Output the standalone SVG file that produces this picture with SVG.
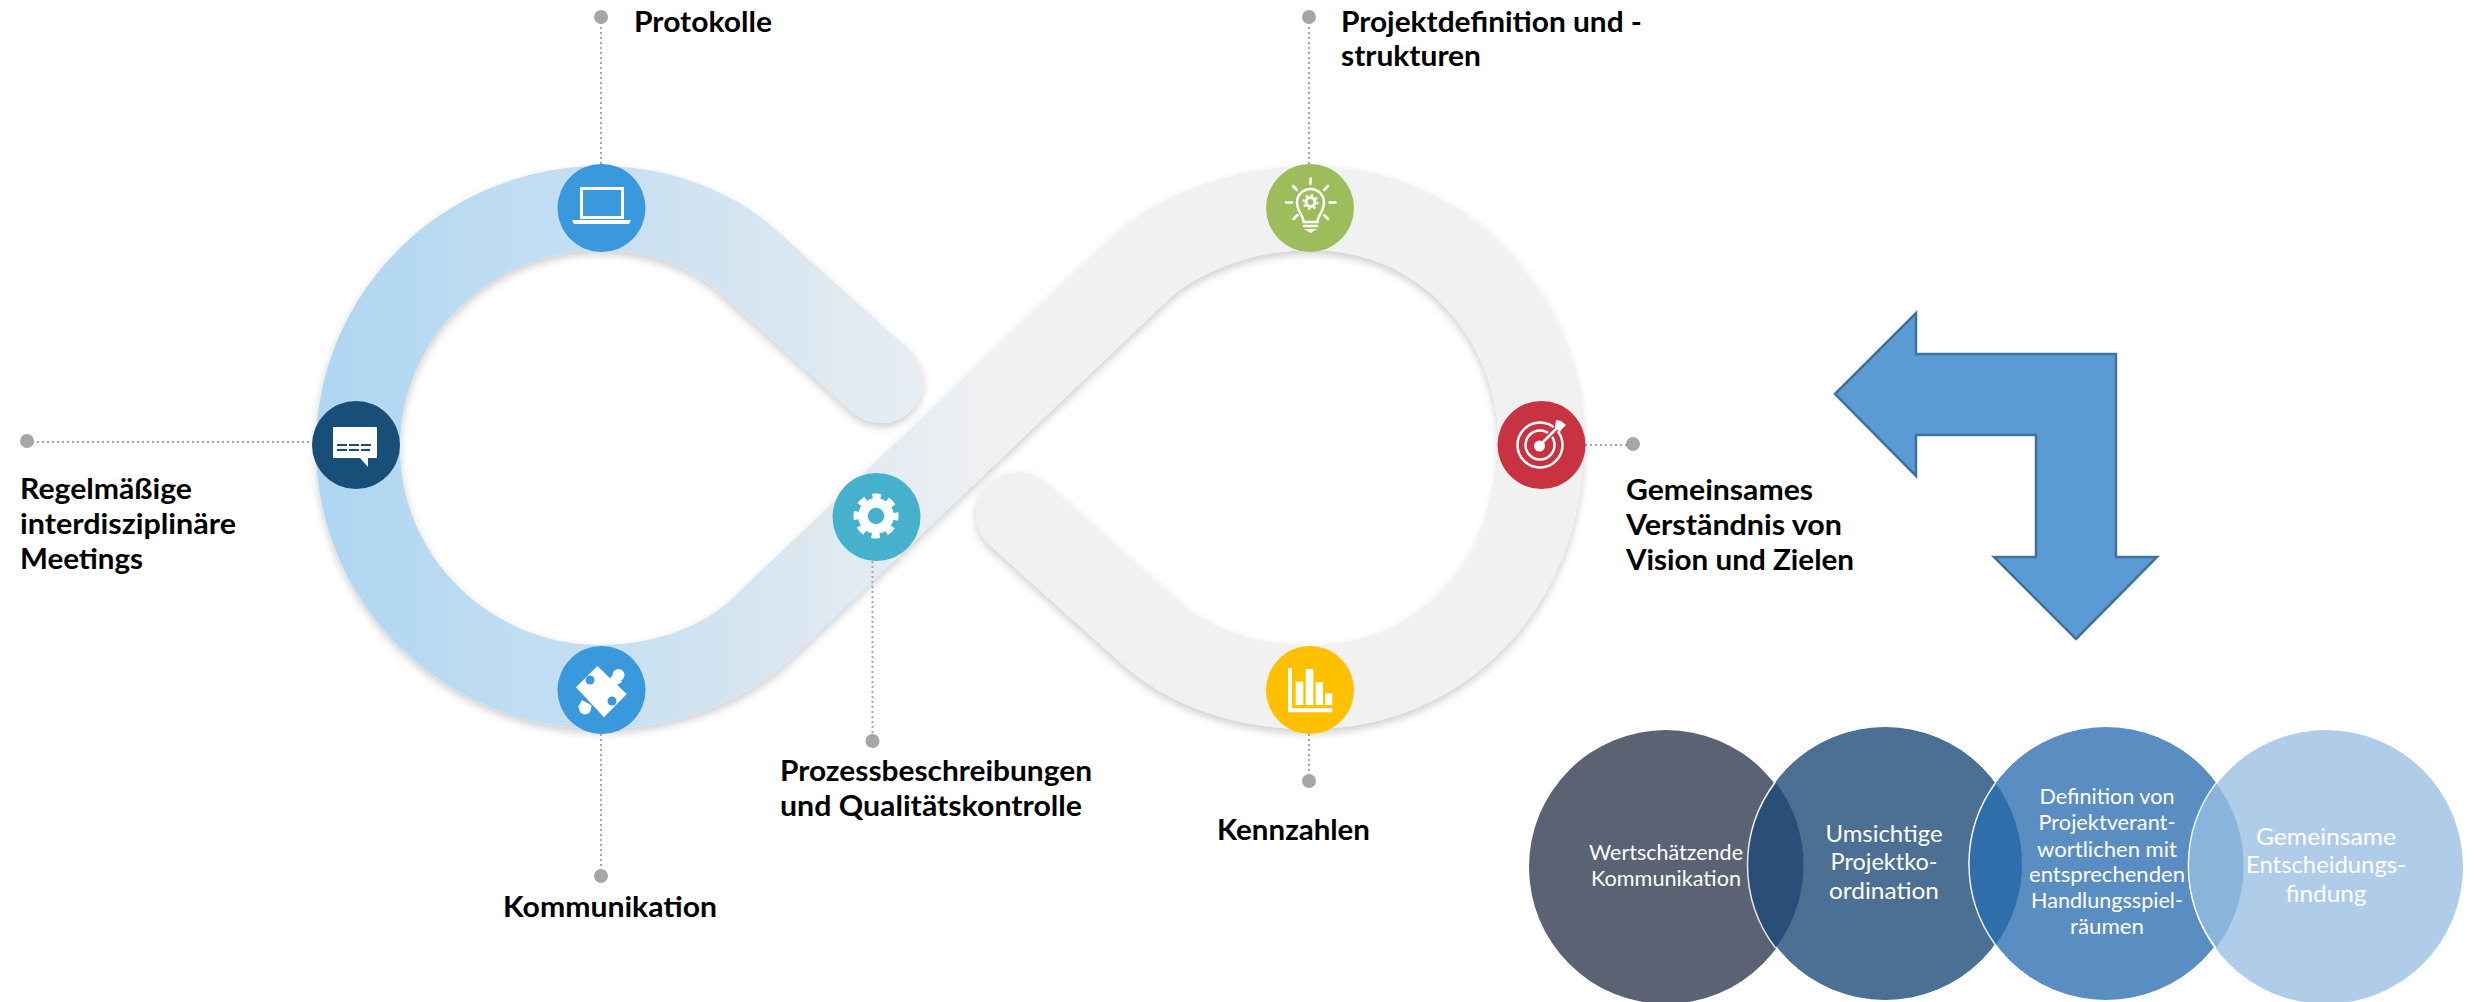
<svg xmlns="http://www.w3.org/2000/svg" width="2481" height="1002" viewBox="0 0 2481 1002">
<style>
.lb{font-family:"Lato","Open Sans",sans-serif;font-weight:700;font-size:29px;fill:#000}
.ct{font-family:"Lato","Open Sans",sans-serif;font-size:22px;fill:#fff;text-anchor:middle}
.ct2{font-size:24px}
.dot{fill:#a6a6a6}
.lead{fill:none;stroke:#a6a6a6;stroke-width:2;stroke-dasharray:2 3}
.w{fill:#fff}
.ws{fill:none;stroke:#fff;stroke-linecap:round}
</style>
<defs>
<linearGradient id="band" gradientUnits="userSpaceOnUse" x1="317" y1="0" x2="1010" y2="0">
<stop offset="0" stop-color="#aed6f2"/><stop offset=".45" stop-color="#c9e0f1"/><stop offset="1" stop-color="#f1f1f1"/>
</linearGradient>
<filter id="sh" filterUnits="userSpaceOnUse" x="280" y="130" width="1340" height="640"><feDropShadow dx="0" dy="4" stdDeviation="4" flood-color="#000" flood-opacity=".2"/></filter>
</defs>
<rect width="2481" height="1002" fill="#fff"/>
<path id="infinity-band" fill="none" stroke="url(#band)" stroke-width="84" stroke-linecap="round" filter="url(#sh)" d="M881 381 L750 263 C708 224 650 208 601 208 C467 208 358 315 358 447.5 C358 580 467 687 601 687 C650 687 715 672 760 630 L1137 271 C1180 230 1250 208 1310 208 C1444 208 1541 315 1541 447.5 C1541 580 1444 687 1310 687 C1250 687 1190 670 1145 628 L1018 514"/>
<g id="connectors">
<path class="lead" d="M601 17V165"/><path class="lead" d="M1309 17V165"/><path class="lead" d="M27 442H312"/><path class="lead" d="M1585 445H1633"/><path class="lead" d="M601 734V876"/><path class="lead" d="M872.500 561V741"/><path class="lead" d="M1309 734V781"/>
<circle class="dot" cx="601" cy="17" r="7"/><circle class="dot" cx="1309" cy="17" r="7"/><circle class="dot" cx="27" cy="441" r="7"/><circle class="dot" cx="1633" cy="444" r="7"/><circle class="dot" cx="601" cy="876" r="7"/><circle class="dot" cx="872.500" cy="741" r="7"/><circle class="dot" cx="1309" cy="781" r="7"/>
</g>
<g id="node-protokolle">
<circle cx="601.500" cy="208" r="44" fill="#3a98dc"/>
<rect x="581.500" y="188.500" width="41" height="29" fill="none" stroke="#fff" stroke-width="3"/>
<path class="w" d="M572 220H631L629 224H574Z"/>
<text class="lb" x="634" y="32" textLength="138" lengthAdjust="spacingAndGlyphs">Protokolle</text>
</g>
<g id="node-meetings">
<circle cx="356" cy="445" r="44" fill="#174f78"/>
<path class="w" d="M333 427H377V458H368V467L360 458H333Z"/>
<path d="M337 445H373M337 450H370" stroke="#174f78" stroke-width="2" stroke-dasharray="10 2"/>
<text class="lb" x="20" y="499" textLength="172" lengthAdjust="spacingAndGlyphs">Regelmäßige</text>
<text class="lb" x="20" y="534" textLength="216" lengthAdjust="spacingAndGlyphs">interdisziplinäre</text>
<text class="lb" x="20" y="569" textLength="123" lengthAdjust="spacingAndGlyphs">Meetings</text>
</g>
<g id="node-kommunikation">
<circle cx="601.500" cy="690" r="44" fill="#3a98dc"/>
<path class="w" d="M597.300 666L626.700 694L604 717.300L576 687.300Z"/>
<circle class="w" cx="618.500" cy="675" r="6"/><path class="w" d="M610 678L616 672L622 682L615 686Z"/>
<circle class="w" cx="585" cy="708.500" r="6"/><path class="w" d="M582 700L592 706L587 713L578 707Z"/>
<circle cx="590" cy="680" r="4.500" fill="#3a98dc"/>
<circle cx="612" cy="701" r="4.500" fill="#3a98dc"/>
<text class="lb" x="503" y="917" textLength="214" lengthAdjust="spacingAndGlyphs">Kommunikation</text>
</g>
<g id="node-prozess">
<circle cx="876.500" cy="517" r="44" fill="#46b1cd"/>
<circle cx="876" cy="516" r="13" fill="none" stroke="#fff" stroke-width="9.500"/>
<circle cx="876" cy="516" r="19.500" fill="none" stroke="#fff" stroke-width="6" stroke-dasharray="8.300 7" stroke-dashoffset="4"/>
<text class="lb" x="780" y="781" textLength="312" lengthAdjust="spacingAndGlyphs">Prozessbeschreibungen</text>
<text class="lb" x="780" y="816" textLength="302" lengthAdjust="spacingAndGlyphs">und Qualitätskontrolle</text>
</g>
<g id="node-projektdefinition">
<circle cx="1310" cy="208" r="44" fill="#9dbd5c"/>
<g class="ws" stroke-width="2.500">
<path class="ws" d="M1310.500 178.500V184M1286 202.500H1292M1329.500 202.500H1335.500M1293 186L1297 190M1328 186L1324 190M1293.500 219L1297.500 215M1328 219L1324 215"/>
<path class="ws" d="M1303.500 222C1303.500 215 1297 212 1297 202.500A13.500 13.500 0 1 1 1324 202.500C1324 212 1317.500 215 1317.500 222Z"/>
<path class="ws" d="M1304 226H1317"/>
</g>
<path class="w" d="M1304 229H1317L1310.500 233Z"/>
<circle cx="1310.500" cy="202" r="4.500" fill="none" stroke="#fff" stroke-width="3"/>
<circle cx="1310.500" cy="202" r="7" fill="none" stroke="#fff" stroke-width="2" stroke-dasharray="2.500 3"/>
<text class="lb" x="1341" y="32" textLength="301" lengthAdjust="spacingAndGlyphs">Projektdefinition und -</text>
<text class="lb" x="1341" y="66" textLength="140" lengthAdjust="spacingAndGlyphs">strukturen</text>
</g>
<g id="node-vision">
<circle cx="1541.500" cy="445" r="44" fill="#c93240"/>
<circle cx="1540" cy="445" r="22.500" fill="none" stroke="#fff" stroke-width="2.500"/>
<circle cx="1540" cy="445" r="14.500" fill="none" stroke="#fff" stroke-width="2.500"/>
<path d="M1540 445L1558 427" stroke="#c93240" stroke-width="6"/>
<circle class="w" cx="1539.500" cy="446" r="5.500"/>
<path d="M1540 445L1558 427" stroke="#fff" stroke-width="2.500"/>
<path class="w" d="M1555 428L1556 420L1561 421L1566 425L1562 429L1560 432Z"/>
<text class="lb" x="1626" y="500" textLength="187" lengthAdjust="spacingAndGlyphs">Gemeinsames</text>
<text class="lb" x="1626" y="535" textLength="216" lengthAdjust="spacingAndGlyphs">Verständnis von</text>
<text class="lb" x="1626" y="570" textLength="228" lengthAdjust="spacingAndGlyphs">Vision und Zielen</text>
</g>
<g id="node-kennzahlen">
<circle cx="1310" cy="690" r="44" fill="#ffc000"/>
<path class="w" d="M1288 668H1292V708.300H1332.300V712.300H1288ZM1295.700 681.700H1303.300V705H1295.700ZM1305.700 669H1313.300V705H1305.700ZM1315.700 682.300H1323V705H1315.700ZM1325.300 693.300H1332.300V705H1325.300Z"/>
<text class="lb" x="1217" y="840" textLength="153" lengthAdjust="spacingAndGlyphs">Kennzahlen</text>
</g>
<polygon id="bent-arrow" points="1835,394 1916,313 1916,354 2116,354 2116,557 2157,557 2076,639 1994,557 2036,557 2036,435 1916,435 1916,476" fill="#5b9bd5" stroke="#41719c" stroke-width="2.500"/>
<g id="circle-wertschaetzende">
<circle cx="1666" cy="867" r="137" fill="#5a6274"/>
</g>
<g id="circle-umsichtige">
<circle cx="1885" cy="863.500" r="137" fill="#4c6f94" stroke="#fff" stroke-width="1"/>
</g>
<g id="circle-definition">
<circle cx="2106" cy="863.500" r="137" fill="#5a8ec2" stroke="#fff" stroke-width="1"/>
</g>
<g id="circle-entscheidung">
<circle cx="2326" cy="867" r="137.500" fill="#afcde9" stroke="#fff" stroke-width="1"/>
</g>
<g id="overlaps">
<path fill="#294f78" d="M1775.500 782A137 137 0 0 1 1775.500 948A137 137 0 0 1 1775.500 782Z"/>
<path fill="#2f70ac" d="M1995.500 783A137 137 0 0 1 1995.500 945A137 137 0 0 1 1995.500 783Z"/>
<path fill="#8ab4dc" d="M2216 783A137 137 0 0 1 2216 948A137 137 0 0 1 2216 783Z"/>
<path fill="none" stroke="#fff" stroke-width="1.500" stroke-opacity=".85" d="M1775.500 782A137 137 0 0 0 1775.500 948M1995.500 783A137 137 0 0 0 1995.500 945M2216 783A137 137 0 0 0 2216 948"/>
</g>
<g id="circle-texts">
<text class="ct" x="1666" y="860" textLength="154" lengthAdjust="spacingAndGlyphs">Wertschätzende</text>
<text class="ct" x="1666" y="886" textLength="150" lengthAdjust="spacingAndGlyphs">Kommunikation</text>
<text class="ct ct2" x="1884" y="842" textLength="117" lengthAdjust="spacingAndGlyphs">Umsichtige</text>
<text class="ct ct2" x="1884" y="870" textLength="107" lengthAdjust="spacingAndGlyphs">Projektko-</text>
<text class="ct ct2" x="1884" y="899" textLength="110" lengthAdjust="spacingAndGlyphs">ordination</text>
<text class="ct" x="2107" y="804" textLength="135" lengthAdjust="spacingAndGlyphs">Definition von</text>
<text class="ct" x="2107" y="830" textLength="137" lengthAdjust="spacingAndGlyphs">Projektverant-</text>
<text class="ct" x="2107" y="857" textLength="140" lengthAdjust="spacingAndGlyphs">wortlichen mit</text>
<text class="ct" x="2107" y="882" textLength="156" lengthAdjust="spacingAndGlyphs">entsprechenden</text>
<text class="ct" x="2107" y="908" textLength="152" lengthAdjust="spacingAndGlyphs">Handlungsspiel-</text>
<text class="ct" x="2107" y="934" textLength="74" lengthAdjust="spacingAndGlyphs">räumen</text>
<text class="ct ct2" x="2326" y="845" textLength="140" lengthAdjust="spacingAndGlyphs">Gemeinsame</text>
<text class="ct ct2" x="2326" y="873" textLength="160" lengthAdjust="spacingAndGlyphs">Entscheidungs-</text>
<text class="ct ct2" x="2326" y="902" textLength="81" lengthAdjust="spacingAndGlyphs">findung</text>
</g>
</svg>
